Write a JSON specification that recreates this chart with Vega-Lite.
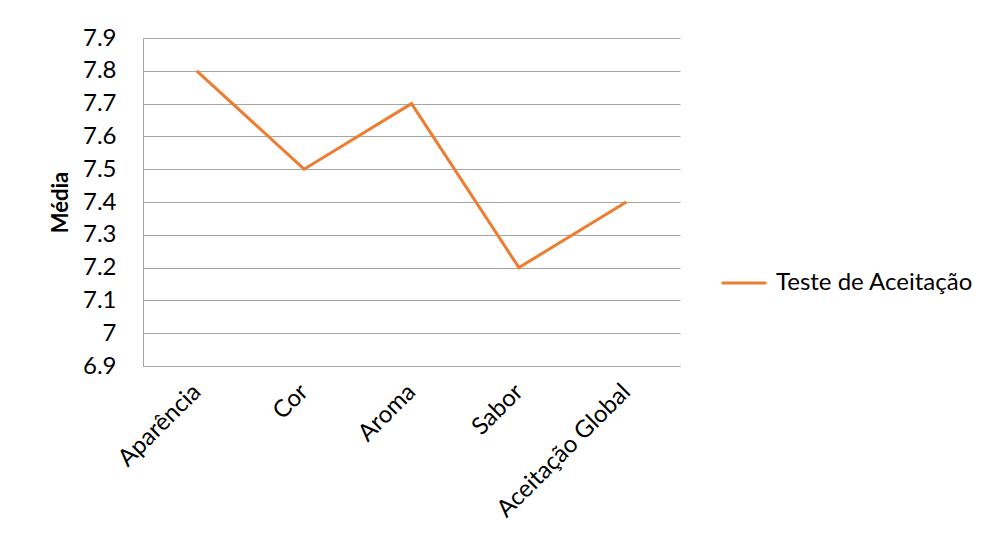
{
  "$schema": "https://vega.github.io/schema/vega-lite/v6.json",
  "width": 537,
  "height": 328,
  "autosize": {"type": "none"},
  "padding": {"left": 143, "top": 38, "right": 320, "bottom": 179},
  "background": "white",
  "config": {
    "view": {"stroke": null},
    "font": "Lato"
  },
  "data": {
    "values": [
      {"atributo": "Aparência", "media": 7.8, "serie": "Teste de Aceitação"},
      {"atributo": "Cor", "media": 7.5, "serie": "Teste de Aceitação"},
      {"atributo": "Aroma", "media": 7.7, "serie": "Teste de Aceitação"},
      {"atributo": "Sabor", "media": 7.2, "serie": "Teste de Aceitação"},
      {"atributo": "Aceitação Global", "media": 7.4, "serie": "Teste de Aceitação"}
    ]
  },
  "mark": {"type": "line", "strokeWidth": 3},
  "encoding": {
    "x": {
      "field": "atributo",
      "type": "nominal",
      "sort": null,
      "scale": {"type": "point", "padding": 0.5},
      "axis": {
        "title": null,
        "labelAngle": -45,
        "labelAlign": "right",
        "labelBaseline": "middle",
        "labelFontSize": 24,
        "labelColor": "#000000",
        "labelPadding": 22,
        "labelLimit": 300,
        "ticks": false,
        "domainColor": "#a6a6a6",
        "grid": false
      }
    },
    "y": {
      "field": "media",
      "type": "quantitative",
      "scale": {"domain": [6.9, 7.9], "nice": false, "zero": false},
      "axis": {
        "title": "Média",
        "titleFontSize": 22,
        "titleFontWeight": "bold",
        "titleColor": "#000000",
        "titlePadding": 10,
        "values": [6.9, 7.0, 7.1, 7.2, 7.3, 7.4, 7.5, 7.6, 7.7, 7.8, 7.9],
        "format": "~g",
        "labelFontSize": 24,
        "labelColor": "#000000",
        "labelPadding": 27,
        "ticks": false,
        "domainColor": "#a6a6a6",
        "gridColor": "#a6a6a6",
        "gridOpacity": 1
      }
    },
    "color": {
      "field": "serie",
      "type": "nominal",
      "scale": {"range": ["#ED7D31"]},
      "legend": {
        "title": null,
        "orient": "none",
        "legendX": 577,
        "legendY": 221,
        "symbolType": "stroke",
        "symbolSize": 2000,
        "symbolStrokeWidth": 3,
        "labelFontSize": 24,
        "labelOffset": 8,
        "labelColor": "#000000",
        "labelLimit": 400
      }
    }
  }
}
